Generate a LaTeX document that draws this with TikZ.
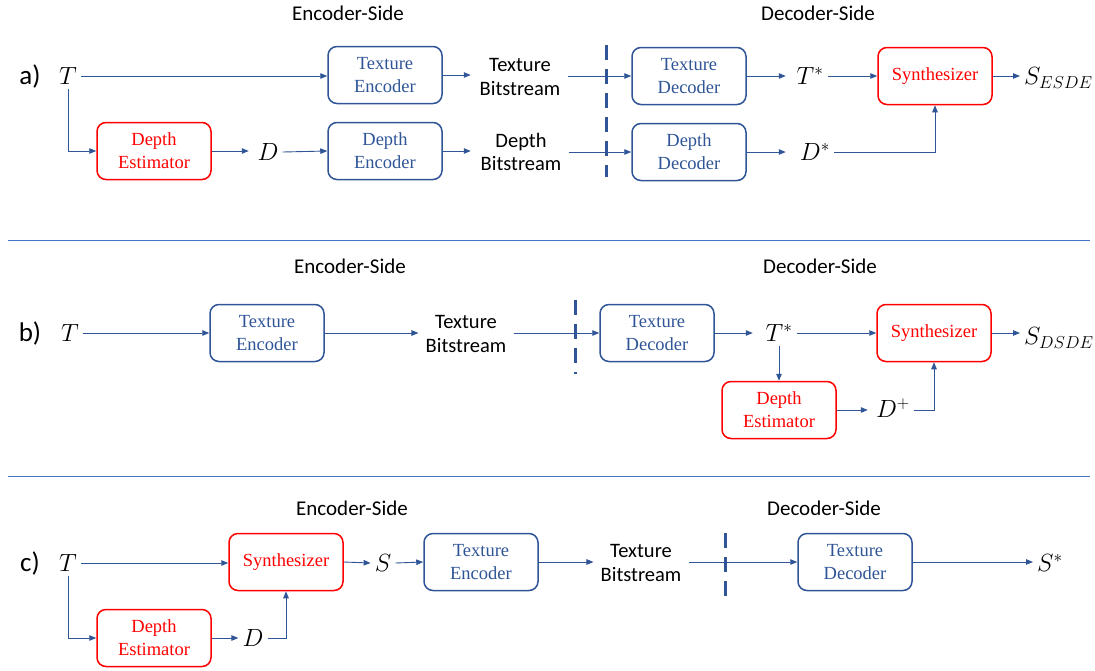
\documentclass[tikz,border=0pt]{standalone}
\usepackage{fontspec}
\setmainfont{Liberation Serif}
\newfontfamily\carl{Carlito}
\usetikzlibrary{arrows.meta}
\definecolor{myblue}{RGB}{47,85,151}
\definecolor{sepblue}{RGB}{68,114,196}
\definecolor{myred}{RGB}{255,0,0}
\begin{document}
\begin{tikzpicture}[x=1pt,y=-1pt,
  box/.style={draw, line width=1.5pt, rounded corners=9pt, minimum width=114pt, minimum height=57pt, align=center, inner sep=2pt, font=\fontsize{18.5}{23}\selectfont},
  bbox/.style={box, draw=myblue, text=myblue},
  rbox/.style={box, draw=myred, text=myred},
  lbl/.style={align=center, inner sep=7pt, font=\carl\fontsize{20.5}{23.5}\selectfont},
  side/.style={font=\carl\fontsize{21}{24}\selectfont},
  panel/.style={font=\carl\fontsize{27}{30}\selectfont},
  mth/.style={inner sep=4pt, font=\fontsize{26}{29}\selectfont},
  arr/.style={draw=myblue, line width=0.9pt, -{Triangle[length=7pt,width=5.5pt]}},
  dline/.style={draw=myblue, line width=3pt, dash pattern=on 15pt off 9pt},
  sep/.style={draw=sepblue, line width=0.9pt}]
\useasboundingbox (0,0) rectangle (1095,670);

% ---------------- panel a ----------------
\node[side] (encA) at (348,13) {Encoder-Side};
\node[side] (decA) at (818,13) {Decoder-Side};
\node[panel] (pa) at (30,76) {a)};
\node[mth] (Ta) at (68,76) {$T$};
\node[bbox] (TEa) at (385,75) {Texture\\Encoder};
\node[lbl] (TBa) at (520,77) {Texture\\Bitstream};
\node[bbox] (TDa) at (689,76) {Texture\\Decoder};
\node[mth] (TSa) at (810,76) {$T^{*}$};
\node[rbox] (SYa) at (935,76) {Synthesizer};
\node[mth, anchor=west] (Sa) at (1020,78) {$S_{ESDE}$};
\node[rbox] (DEa) at (154,151) {Depth\\Estimator};
\node[mth] (Da) at (268,152) {$D$};
\node[bbox] (DNa) at (385,151) {Depth\\Encoder};
\node[lbl] (DBa) at (521,152) {Depth\\Bitstream};
\node[bbox] (DDa) at (689,152) {Depth\\Decoder};
\node[mth] (DSa) at (815,152) {$D^{*}$};
\draw[arr] (Ta.east) -- (TEa.west |- Ta.east);
\draw[arr] (TEa.east) -- ++(28,0);
\draw[arr] (TBa.east |- TDa.west) -- (TDa.west);
\draw[arr] (TDa.east) -- ++(39,0);
\draw[arr] (TSa.east) -- (SYa.west);
\draw[arr] (SYa.east) -- (Sa.west |- SYa.east);
\draw[arr] (Ta.south) |- (DEa.west);
\draw[arr] (DEa.east) -- ++(37,0);
\draw[arr] (Da.east) -- (DNa.west);
\draw[arr] (DNa.east) -- ++(28,0);
\draw[arr] (DBa.east |- DDa.west) -- (DDa.west);
\draw[arr] (DDa.east) -- ++(39,0);
\draw[arr] (DSa.east) -| (SYa.south);
\coordinate (dA1) at (606,45);
\coordinate (dA2) at (606,177);
\draw[dline] (dA1) -- (dA2);

\coordinate (s1a) at (8,240);
\coordinate (s1b) at (1090,240);
\draw[sep] (s1a) -- (s1b);

% ---------------- panel b ----------------
\node[side] (encB) at (350,266) {Encoder-Side};
\node[side] (decB) at (820,266) {Decoder-Side};
\node[panel] (pb) at (30,333) {b)};
\node[mth] (Tb) at (70,333) {$T$};
\node[bbox] (TEb) at (267,333) {Texture\\Encoder};
\node[lbl] (TBb) at (466,334) {Texture\\Bitstream};
\node[bbox] (TDb) at (657,333) {Texture\\Decoder};
\node[mth] (TSb) at (779,333) {$T^{*}$};
\node[rbox] (SYb) at (934,333) {Synthesizer};
\node[mth, anchor=west] (Sb) at (1020,338) {$S_{DSDE}$};
\node[rbox] (DEb) at (779,410) {Depth\\Estimator};
\node[mth] (DPb) at (893,408) {$D^{+}$};
\draw[arr] (Tb.east) -- (TEb.west);
\draw[arr] (TEb.east) -- (TBb.west |- TEb.east);
\draw[arr] (TBb.east |- TDb.west) -- (TDb.west);
\draw[arr] (TDb.east) -- ++(38,0);
\draw[arr] (TSb.east) -- (SYb.west);
\draw[arr] (SYb.east) -- (Sb.west |- SYb.east);
\draw[arr] (TSb.south) -- (DEb.north);
\draw[arr] (DEb.east) -- ++(31,0);
\draw[arr] (DPb.east |- DEb.east) -| (SYb.south);
\coordinate (dB1) at (575,300);
\coordinate (dB2) at (575,374);
\draw[dline] (dB1) -- (dB2);

\coordinate (s2a) at (8,476);
\coordinate (s2b) at (1090,476);
\draw[sep] (s2a) -- (s2b);

% ---------------- panel c ----------------
\node[side] (encC) at (352,508) {Encoder-Side};
\node[side] (decC) at (824,508) {Decoder-Side};
\node[panel] (pc) at (30,563) {c)};
\node[mth] (Tc) at (68,563) {$T$};
\node[rbox] (SYc) at (286,562) {Synthesizer};
\node[mth] (Sc) at (383,563) {$S$};
\node[bbox] (TEc) at (481,562) {Texture\\Encoder};
\node[lbl] (TBc) at (641,563) {Texture\\Bitstream};
\node[bbox] (TDc) at (855,562) {Texture\\Decoder};
\node[mth] (SSc) at (1050,563) {$S^{*}$};
\node[rbox] (DEc) at (154,638) {Depth\\Estimator};
\node[mth] (Dc) at (253,638) {$D$};
\draw[arr] (Tc.east) -- (SYc.west |- Tc.east);
\draw[arr] (SYc.east) -- (Sc.west);
\draw[arr] (Sc.east) -- (TEc.west);
\draw[arr] (TEc.east) -- (TBc.west |- TEc.east);
\draw[arr] (TBc.east |- TDc.west) -- (TDc.west);
\draw[arr] (TDc.east) -- (SSc.west |- TDc.east);
\draw[arr] (Tc.south) |- (DEc.west);
\draw[arr] (DEc.east) -- (Dc.west);
\draw[arr] (Dc.east) -| (SYc.south);
\coordinate (dC1) at (725,533);
\coordinate (dC2) at (725,604);
\draw[dline] (dC1) -- (dC2);
\end{tikzpicture}
\end{document}
